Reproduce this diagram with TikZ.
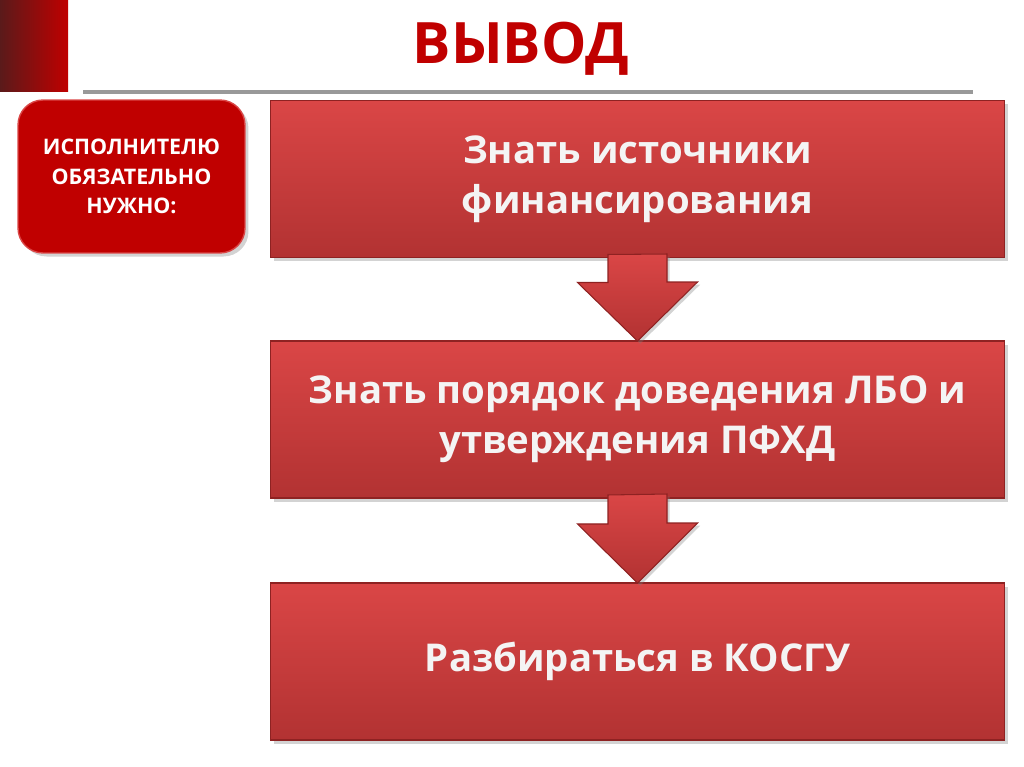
\documentclass[tikz,border=0pt]{standalone}
\usepackage{fontspec}
\setmainfont{Open Sans}
\usetikzlibrary{calc,shadows}
\definecolor{titlered}{HTML}{C00000}
\definecolor{darkbar}{HTML}{5A1A1A}
\definecolor{boxtop}{HTML}{DA4646}
\definecolor{boxbot}{HTML}{B23232}
\definecolor{boxline}{HTML}{8E2222}
\definecolor{textwhite}{HTML}{F4F4F4}
\begin{document}
\begin{tikzpicture}[x=0.02cm,y=-0.02cm,inner sep=0pt,outer sep=0pt,
stepbox/.style={rectangle,minimum width=14.7cm,minimum height=3.14cm,top color=boxtop,bottom color=boxbot,
  draw=boxline,line width=0.6pt,drop shadow={shadow xshift=2pt,shadow yshift=-2pt,opacity=0.35},
  text=textwhite,font=\bfseries\fontsize{21.8}{28.5}\selectfont,align=center},
notebox/.style={rectangle,rounded corners=0.5cm,minimum width=4.54cm,minimum height=3.06cm,fill=titlered,
  draw=boxtop,line width=0.8pt,drop shadow={shadow xshift=2pt,shadow yshift=-2pt,opacity=0.35},
  text=white,font=\bfseries\fontsize{12.2}{17}\selectfont,align=center},
blockarrow/.style={top color=boxtop,bottom color=boxbot,draw=boxline,line width=0.6pt,line join=miter,
  drop shadow={shadow xshift=1.5pt,shadow yshift=-1.5pt,opacity=0.35}}]
\useasboundingbox (0,0) rectangle (1024,767);
% heading
\shade[left color=darkbar,right color=titlered] (0,0) rectangle (68,92);
\draw[line width=2.3pt,color=black!40] (83,92) -- (973,92);
\draw (521,49) node[text=titlered,font=\bfseries\fontsize{32.5}{38}\selectfont] (title) {ВЫВОД};
% boxes
\draw (131.5,176.5) node[notebox] (note) {ИСПОЛНИТЕЛЮ\\ОБЯЗАТЕЛЬНО\\НУЖНО:};
\draw (637.5,179) node[stepbox] (src) {Знать источники\\финансирования};
\draw (637.5,419.5) node[stepbox] (lbo) {Знать порядок доведения ЛБО и\\утверждения ПФХД};
\draw (637.5,661.5) node[stepbox] (kosgu) {Разбираться в КОСГУ};
% arrows
\draw[blockarrow] ($(src.south)+(-29.5,-3)$) -- ++(0,28) -- ++(-30.5,0) -- (lbo.north)
  -- ++(60,-59) -- ++(-30.5,0) -- ++(0,-28) -- cycle;
\draw[blockarrow] ($(lbo.south)+(-29.5,-3)$) -- ++(0,29) -- ++(-30.5,0) -- (kosgu.north)
  -- ++(60,-60) -- ++(-30.5,0) -- ++(0,-29) -- cycle;
\end{tikzpicture}
\end{document}
